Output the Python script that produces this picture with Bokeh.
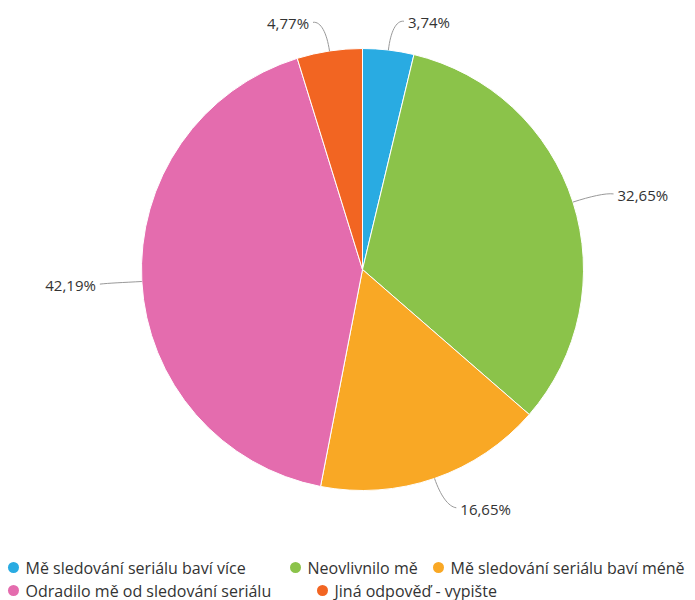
import math
from bokeh.plotting import figure
from bokeh.models import Range1d, ColumnDataSource
from bokeh.core.properties import value
from bokeh.embed import file_html
from bokeh.resources import INLINE

categories = ["Mě sledování seriálu baví více", "Neovlivnilo mě", "Mě sledování seriálu baví méně",
              "Odradilo mě od sledování seriálu", "Jiná odpověď - vypište"]
values = [3.74, 32.65, 16.65, 42.19, 4.77]
labels = ["3,74%", "32,65%", "16,65%", "42,19%", "4,77%"]
colors = ["#29ABE2", "#8BC34A", "#F9A825", "#E46CAE", "#F26522"]

W, H = 695, 600
CX, CY, R = 362, H - 269, 221

p = figure(width=W, height=H, output_backend="svg", toolbar_location=None,
           x_range=Range1d(0, W), y_range=Range1d(0, H), min_border=0)
p.axis.visible = False
p.grid.visible = False
p.outline_line_color = None
p.background_fill_color = "white"
p.border_fill_color = "white"

total = sum(values)
starts, ends, mids = [], [], []
cum = 0.0
for v in values:
    a0 = math.pi / 2 - cum / total * 2 * math.pi
    cum += v
    a1 = math.pi / 2 - cum / total * 2 * math.pi
    starts.append(a0)
    ends.append(a1)
    mids.append((a0 + a1) / 2)

src = ColumnDataSource(dict(start=starts, end=ends, color=colors))
p.wedge(x=CX, y=CY, radius=R, start_angle="start", end_angle="end", direction="clock",
        fill_color="color", line_color="white", line_width=1, source=src)

# data labels with connectors
for m, lab in zip(mids, labels):
    ux, uy = math.cos(m), math.sin(m)
    side = 1 if ux >= 0 else -1
    x0, y0 = CX + R * ux, CY + R * uy
    xm, ym = CX + (R + 18) * ux, CY + (R + 18) * uy
    x1, y1 = CX + (R + 30) * ux + side * 4, CY + (R + 30) * uy
    x2 = x1 + side * 8
    p.bezier(x0=x0, y0=y0, x1=x2, y1=y1 - 1, cx0=xm, cy0=ym, cx1=x1, cy1=y1,
             line_color="#999999", line_width=1)
    p.text(x=[x2 + side * 4], y=[y1 - 2], text=[lab], text_align="left" if side > 0 else "right",
           text_baseline="middle", text_font=value("Open Sans"), text_font_size="15px",
           text_color="#333333")

# legend
rows = [[(13, 0), (295, 1), (438, 2)], [(13, 3), (322, 4)]]
row_y = [H - 567, H - 590]
for ry, row in zip(row_y, rows):
    for lx, i in row:
        p.scatter(x=[lx], y=[ry], size=11, marker="circle", fill_color=colors[i], line_color=None)
        p.text(x=[lx + 12], y=[ry], text=[categories[i]], text_align="left", text_baseline="middle",
               text_font=value("Open Sans"), text_font_size="16px", text_color="#333333")

open("out.html", "w").write(file_html(p, INLINE))
